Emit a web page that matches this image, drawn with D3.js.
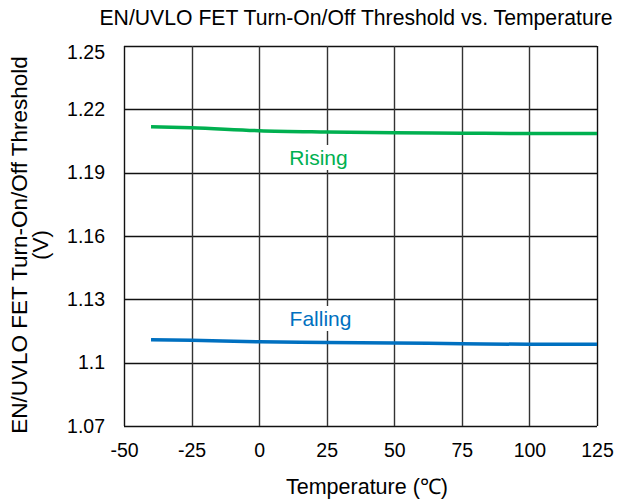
<!DOCTYPE html>
<html><head><meta charset="utf-8">
<script src="https://cdn.jsdelivr.net/npm/d3@7"></script>
<style>body{margin:0;background:#fff}svg{display:block;font-family:"Liberation Sans",Arial,sans-serif}</style>
</head><body><svg id="c" width="628" height="504"></svg>
<script>
const temps = [-40, -25, 0, 25, 50, 75, 100, 125];
const rising = [1.2118, 1.2113, 1.2099, 1.2093, 1.2089, 1.2087, 1.2085, 1.2085];
const falling = [1.1109, 1.1106, 1.1099, 1.1096, 1.1093, 1.1090, 1.1087, 1.1087];
const xTicks = [-50, -25, 0, 25, 50, 75, 100, 125];
const yTicks = [1.07, 1.10, 1.13, 1.16, 1.19, 1.22, 1.25];
const yTickLabels = ["1.07", "1.1", "1.13", "1.16", "1.19", "1.22", "1.25"];

const svg = d3.select("#c");
const L = 124, R = 597, T = 46, B = 426;
const x = d3.scaleLinear().domain([-50, 125]).range([L, R]);
const y = d3.scaleLinear().domain([1.07, 1.25]).range([B, T]);

svg.append("g").selectAll("line").data(yTicks).join("line")
  .attr("x1", L).attr("x2", R).attr("y1", d => Math.round(y(d)) + 0.5).attr("y2", d => Math.round(y(d)) + 0.5)
  .attr("stroke", "#111").attr("stroke-width", 1.4);
svg.append("g").selectAll("line").data(xTicks).join("line")
  .attr("x1", d => Math.round(x(d)) + 0.5).attr("x2", d => Math.round(x(d)) + 0.5).attr("y1", T).attr("y2", B)
  .attr("stroke", (d, i) => (i === 0 || i === xTicks.length - 1) ? "#111" : "#333")
  .attr("stroke-width", 1.4);

const xAxis = svg.append("g").attr("transform", `translate(0,${B})`)
  .call(d3.axisBottom(x).tickValues(xTicks).tickSize(0).tickPadding(17).tickFormat(d => String(d)));
xAxis.select(".domain").remove();
xAxis.selectAll("text").attr("font-size", 19.5).attr("fill", "#000").attr("font-family", "Liberation Sans, Arial, sans-serif");

const yAxis = svg.append("g").attr("transform", `translate(${L},0)`)
  .call(d3.axisLeft(y).tickValues(yTicks).tickSize(0).tickPadding(19).tickFormat((d, i) => yTickLabels[i]));
yAxis.select(".domain").remove();
yAxis.selectAll("text").attr("font-size", 19.5).attr("fill", "#000").attr("font-family", "Liberation Sans, Arial, sans-serif");
yAxis.selectAll(".tick").filter(d => d === 1.25).select("text").attr("dy", "0.62em");

function label(txt, cx, baseline, color) {
  const g = svg.append("g");
  const t = g.append("text").attr("x", cx).attr("y", baseline).attr("text-anchor", "middle")
    .attr("font-size", 21).attr("fill", color).text(txt);
  const bb = t.node().getBBox();
  g.insert("rect", "text").attr("x", bb.x - 2).attr("y", bb.y - 1).attr("width", bb.width + 4).attr("height", bb.height + 2).attr("fill", "#fff");
}

const line = d3.line().x(d => x(d[0])).y(d => y(d[1])).curve(d3.curveMonotoneX);
svg.append("path").datum(temps.map((t, i) => [t, rising[i]])).attr("d", line)
  .attr("fill", "none").attr("stroke", "#00B050").attr("stroke-width", 3.5);
svg.append("path").datum(temps.map((t, i) => [t, falling[i]])).attr("d", line)
  .attr("fill", "none").attr("stroke", "#0070C0").attr("stroke-width", 3.5);

label("Rising", 318.5, 165, "#00B050");
label("Falling", 320.5, 326, "#0070C0");

svg.append("text").attr("x", 356).attr("y", 25).attr("text-anchor", "middle")
  .attr("font-size", 21.2).attr("fill", "#000").text("EN/UVLO FET Turn-On/Off Threshold vs. Temperature");
svg.append("text").attr("x", 367).attr("y", 494).attr("text-anchor", "middle")
  .attr("font-size", 21.5).attr("fill", "#000").text("Temperature (℃)");
const yt = svg.append("text").attr("transform", "translate(27,245) rotate(-90)").attr("text-anchor", "middle")
  .attr("font-size", 22.5).attr("fill", "#000");
yt.append("tspan").attr("x", 0).attr("dy", 0).text("EN/UVLO FET Turn-On/Off Threshold");
yt.append("tspan").attr("x", 0).attr("dy", 21).text("(V)");
</script></body></html>
